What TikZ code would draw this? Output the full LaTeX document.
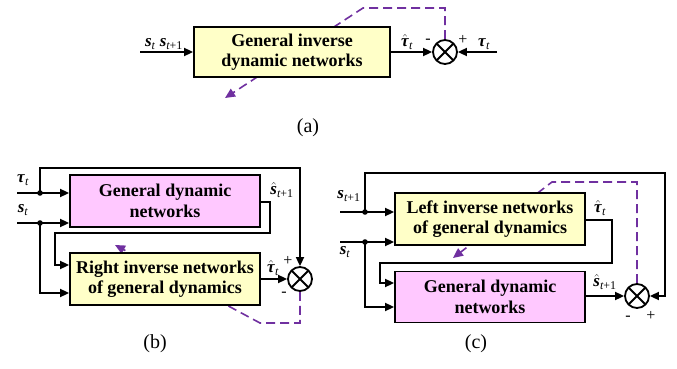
\documentclass[tikz,border=0pt]{standalone}
\usepackage{amsmath}
\usepackage{fontspec}
\setmainfont{Liberation Serif}
\usetikzlibrary{arrows.meta,backgrounds}
\definecolor{boxyel}{RGB}{255,255,200}
\definecolor{boxpink}{RGB}{255,200,255}
\definecolor{dashpur}{RGB}{112,48,160}
\newcommand{\vS}{\textbf{\textit{s}}}
\newcommand{\vT}{\textbf{\textit{τ}}}
\newcommand{\sbt}{\textit{t}}
\newcommand{\sbtp}{\textit{t}\text{+1}}
\tikzset{
  x=1pt, y=-1pt,
  blkbox/.style={draw=black, line width=1.8pt, minimum width=190pt, minimum height=52pt,
    align=center, inner sep=0pt, font=\bfseries\fontsize{18}{20.5}\selectfont},
  ybox/.style={blkbox, fill=boxyel},
  pbox/.style={blkbox, fill=boxpink},
  sumc/.style={circle, draw=black, fill=white, line width=1.8pt, minimum size=24pt, inner sep=0pt,
    path picture={\draw[line width=1.8pt] (path picture bounding box.north west) -- (path picture bounding box.south east)
      (path picture bounding box.north east) -- (path picture bounding box.south west);}},
  wire/.style={line width=1.7pt, draw=black},
  arr/.style={wire, -{Triangle[length=9pt,width=8pt]}},
  dsh/.style={line width=1.6pt, draw=dashpur, dash pattern=on 9pt off 5pt, -{Triangle[length=10pt,width=9pt]}, dashpur},
  lbl/.style={inner sep=0pt, font=\fontsize{17}{19}\selectfont},
  sgn/.style={inner sep=0pt, font=\fontsize{16}{18}\selectfont},
  captxt/.style={inner sep=0pt, font=\fontsize{20}{22}\selectfont},
  jdot/.style={fill=black}
}
\begin{document}
\begin{tikzpicture}
\useasboundingbox (0,0) rectangle (677,369);
% ---------- (a) ----------
\node[ybox, minimum width=196pt, minimum height=50pt] (A) at (292,52) {General inverse\\dynamic networks};
\node[sumc] (SA) at (445,52) {};
\coordinate (ain) at (140,52);
\coordinate (atau) at (497,52);
\coordinate (ad1) at (363,8);
\coordinate (ad2) at (225,98);
\draw[arr] (ain) -- (A.west);
\draw[arr] (A.east) -- (SA.west);
\draw[arr] (atau) -- (SA.east);
\node[lbl] (la1) at (164,44) {\vS$_{\sbt}$ \vS$_{\sbtp}$};
\node[lbl] (la2) at (407,42) {$\hat{\text{\vT}}_{\sbt}$};
\node[sgn] (la3) at (428,41) {-};
\node[sgn] (la4) at (463,40) {+};
\node[lbl] (la5) at (484,44) {\vT$_{\sbt}$};
\node[captxt] (capa) at (308,128) {(a)};
% ---------- (b) ----------
\node[pbox] (B1) at (165,201) {General dynamic\\networks};
\node[ybox] (B2) at (165,279) {Right inverse networks\\of general dynamics};
\node[sumc] (SB) at (300,279) {};
\coordinate (btin) at (17,193);
\coordinate (btd) at (40,193);
\coordinate (btop) at (300,168);
\coordinate (bsin) at (17,223);
\coordinate (bsd) at (40,223);
\coordinate (bslow) at (40,293);
\coordinate (bo1) at (270,202);
\coordinate (bo2) at (270,233);
\coordinate (bo3) at (55,233);
\coordinate (bo4) at (55,265);
\coordinate (bd1) at (260,323);
\coordinate (bd2) at (115,245);
\draw[arr] (btin) -- (B1.west |- btin);
\draw[arr] (btd) |- (btop) -- (SB.north);
\draw[arr] (bsin) -- (B1.west |- bsin);
\draw[arr] (bsd) -- (bslow) -- (B2.west |- bslow);
\draw[arr] (B1.east |- bo1) -- (bo1) -- (bo2) -- (bo3) -- (bo4) -- (B2.west |- bo4);
\draw[arr] (B2.east) -- (SB.west);
\fill[jdot] (btd) circle (2.8pt);
\fill[jdot] (bsd) circle (2.8pt);
\node[lbl] (lb1) at (23,180) {\vT$_{\sbt}$};
\node[lbl] (lb2) at (23,210) {\vS$_{\sbt}$};
\node[lbl] (lb3) at (282,190) {$\hat{\text{\vS}}_{\sbtp}$};
\node[lbl] (lb4) at (273,268) {$\hat{\text{\vT}}_{\sbt}$};
\node[sgn] (lb5) at (288,261) {+};
\node[sgn] (lb6) at (284,294) {-};
\node[captxt] (capb) at (155,344) {(b)};
% ---------- (c) ----------
\node[ybox] (C1) at (490,219) {Left inverse networks\\of general dynamics};
\node[pbox, minimum height=51pt] (C2) at (490,297) {General dynamic\\networks};
\node[sumc] (SC) at (637,296) {};
\coordinate (csin) at (340,212);
\coordinate (csd) at (365,212);
\coordinate (ctr) at (665,173);
\coordinate (csin2) at (340,242);
\coordinate (csd2) at (365,242);
\coordinate (cslow) at (365,307);
\coordinate (co1) at (612,220);
\coordinate (co2) at (612,263);
\coordinate (co3) at (380,263);
\coordinate (co4) at (380,283);
\coordinate (cd1) at (552,182);
\coordinate (cd2) at (453,258);
\draw[arr] (csin) -- (C1.west |- csin);
\draw[arr] (csd) |- (ctr) |- (SC.east);
\draw[arr] (csin2) -- (C1.west |- csin2);
\draw[arr] (csd2) -- (cslow) -- (C2.west |- cslow);
\draw[arr] (C1.east |- co1) -- (co1) -- (co2) -- (co3) -- (co4) -- (C2.west |- co4);
\draw[arr] (C2.east |- SC) -- (SC.west);
\fill[jdot] (csd) circle (2.8pt);
\fill[jdot] (csd2) circle (2.8pt);
\node[lbl] (lc1) at (349,196) {\vS$_{\sbtp}$};
\node[lbl] (lc2) at (345,252) {\vS$_{\sbt}$};
\node[lbl] (lc3) at (600,208) {$\hat{\text{\vT}}_{\sbt}$};
\node[lbl] (lc4) at (605,282) {$\hat{\text{\vS}}_{\sbtp}$};
\node[sgn] (lc5) at (628,318) {-};
\node[sgn] (lc6) at (651,316) {+};
\node[captxt] (capc) at (476,344) {(c)};
% ---------- dashed feedback (under the boxes) ----------
\begin{scope}[on background layer]
\draw[dsh] (SA.north) |- (ad1) -- (ad2);
\draw[dsh] (SB.south) |- (bd1) -- (bd2);
\draw[dsh] (SC.north) |- (cd1) -- (cd2);
\end{scope}
\end{tikzpicture}
\end{document}
